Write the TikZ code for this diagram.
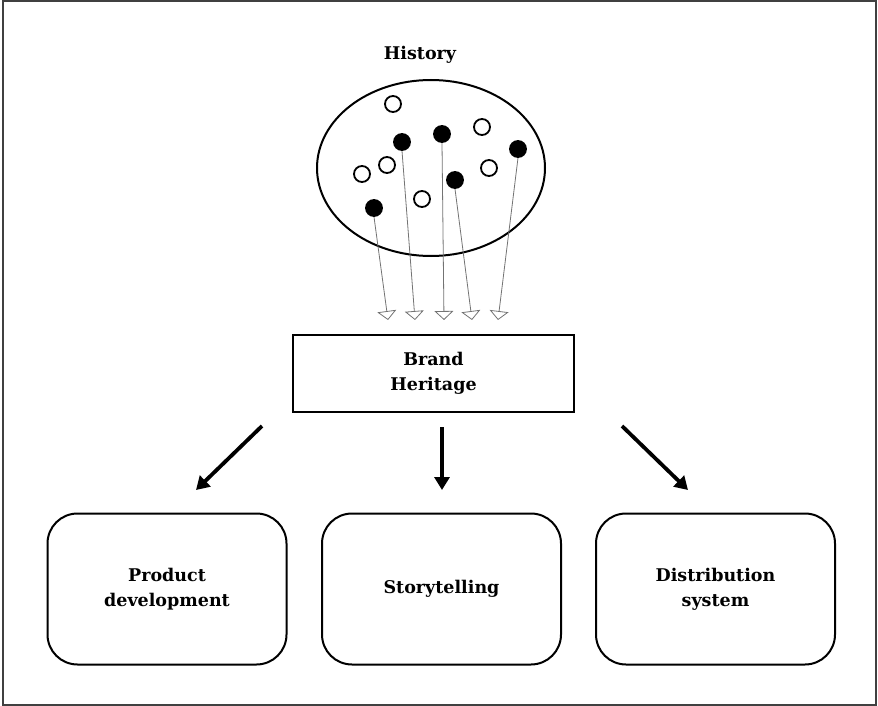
\documentclass[tikz,border=0pt]{standalone}
\usepackage{fontspec}
\setmainfont{DejaVu Serif}
\usetikzlibrary{arrows.meta}
\begin{document}
\begin{tikzpicture}[x=1pt,y=-1pt,
  lbl/.style={font=\bfseries\fontsize{17.5}{25}\selectfont, align=center},
  dotopen/.style={circle, draw, line width=1.8pt, fill=white, minimum size=16pt, inner sep=0pt},
  dotfill/.style={circle, draw, line width=1.8pt, fill=black, minimum size=16pt, inner sep=0pt},
  thin/.style={draw=black!55, line width=0.8pt, -{Triangle[open, length=9pt, width=19pt]}},
  thick/.style={line width=3.8pt, -{Triangle[length=13pt, width=15pt]}},
  rbox/.style={draw, line width=2pt, rounded corners=30pt, minimum width=239pt, minimum height=151pt, inner sep=0pt},
  hbox/.style={draw, line width=2pt, minimum width=281pt, minimum height=77pt, inner sep=0pt}]
\useasboundingbox (0,0) rectangle (878,706);
\draw[draw=black!75, line width=2pt] (3,1.5) rectangle (876,704.5);
\node[lbl] (hist) at (420,55) {History};
\draw[line width=2pt] (431,168) ellipse [x radius=114, y radius=88];
\node[dotopen] (o1) at (393,104) {};
\node[dotopen] (o2) at (482,127) {};
\node[dotopen] (o3) at (387,165) {};
\node[dotopen] (o4) at (362,174) {};
\node[dotopen] (o5) at (489,168) {};
\node[dotopen] (o6) at (422,199) {};
\node[dotfill] (f1) at (374,208) {};
\node[dotfill] (f2) at (402,142) {};
\node[dotfill] (f3) at (442,134) {};
\node[dotfill] (f4) at (455,180) {};
\node[dotfill] (f5) at (518,149) {};
\coordinate (t1) at (388,320);
\coordinate (t2) at (415,320);
\coordinate (t3) at (444,320);
\coordinate (t4) at (472,320);
\coordinate (t5) at (498,320);
\draw[thin] (f1.south) -- (t1);
\draw[thin] (f2.south) -- (t2);
\draw[thin] (f3.south) -- (t3);
\draw[thin] (f4.south) -- (t4);
\draw[thin] (f5.south) -- (t5);
\node[hbox, lbl] (brand) at (433.5,373.5) {Brand\\Heritage};
\node[rbox, lbl] (prod) at (167,589) {Product\\development};
\node[rbox, lbl] (story) at (441.5,589) {Storytelling};
\node[rbox, lbl] (dist) at (715.5,589) {Distribution\\system};
\coordinate (a1s) at (262,426);
\coordinate (a1e) at (196,490);
\coordinate (a2s) at (442,427);
\coordinate (a2e) at (442,490);
\coordinate (a3s) at (622,426);
\coordinate (a3e) at (688,490);
\draw[thick] (a1s) -- (a1e);
\draw[thick] (a2s) -- (a2e);
\draw[thick] (a3s) -- (a3e);
\end{tikzpicture}
\end{document}
